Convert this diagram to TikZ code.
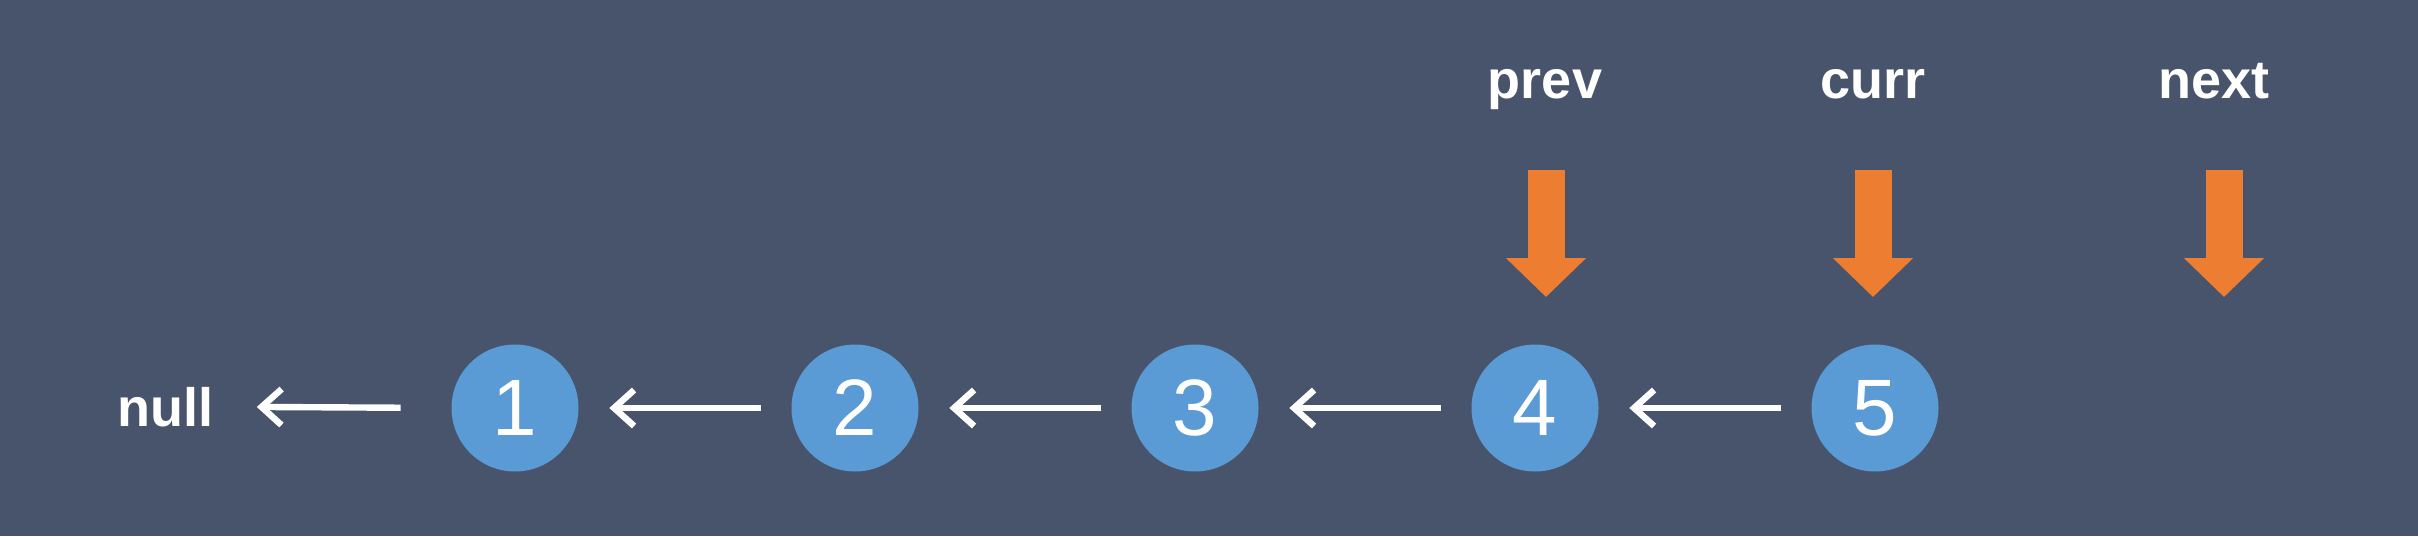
\documentclass[tikz,border=0pt]{standalone}
\usepackage{fontspec}
\setmainfont{Liberation Sans}
\usetikzlibrary{arrows.meta}
\definecolor{bg}{RGB}{71,84,108}
\definecolor{nodeblue}{RGB}{91,155,213}
\definecolor{ptrorange}{RGB}{237,125,49}
\begin{document}
\begin{tikzpicture}[x=0.25pt,y=-0.25pt,
  listnode/.style={circle, fill=nodeblue, minimum size=31.75pt, inner sep=0pt,
    text=white, font=\fontsize{20}{20}\selectfont},
  ptrlabel/.style={anchor=base, text=white, inner sep=0pt,
    font=\bfseries\fontsize{13.5}{13.5}\selectfont},
  link/.style={draw=white, line width=1.6pt,
    -{Straight Barb[length=5pt, width=9pt]}, shorten >=7.5pt, shorten <=7.5pt},
  ptr/.style={draw=ptrorange, line width=9.25pt,
    -{Triangle[length=9.75pt, width=19.5pt]}}
]
\fill[bg] (0,0) rectangle (2418,536);
\useasboundingbox (0,0) rectangle (2418,536);

\node[ptrlabel] (null) at (165,426) {null};
\node[listnode] (n1) at (515,408) {1};
\node[listnode] (n2) at (855,408) {2};
\node[listnode] (n3) at (1195,408) {3};
\node[listnode] (n4) at (1535,408) {4};
\node[listnode] (n5) at (1875,408) {5};

\draw[link, shorten >=10.75pt, shorten <=12.5pt] (n1.west) -- (null.east);
\draw[link] (n2) -- (n1);
\draw[link] (n3) -- (n2);
\draw[link] (n4) -- (n3);
\draw[link] (n5) -- (n4);

\node[ptrlabel] (prev) at (1545,98) {prev};
\node[ptrlabel] (curr) at (1873,98) {curr};
\node[ptrlabel] (next) at (2214,98) {next};

\coordinate (prevtop) at (1546,170);
\coordinate (prevtip) at (1546,297);
\coordinate (currtop) at (1873,170);
\coordinate (currtip) at (1873,297);
\coordinate (nexttop) at (2224,170);
\coordinate (nexttip) at (2224,297);
\draw[ptr] (prevtop) -- (prevtip);
\draw[ptr] (currtop) -- (currtip);
\draw[ptr] (nexttop) -- (nexttip);
\end{tikzpicture}
\end{document}
